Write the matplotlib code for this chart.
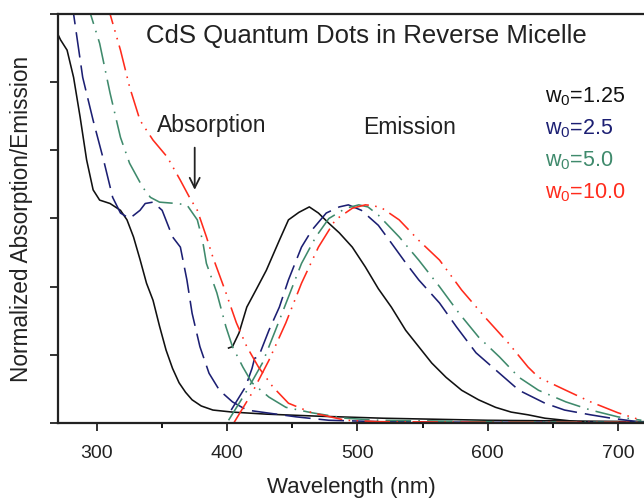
import matplotlib
matplotlib.use("Agg")
import matplotlib.pyplot as plt

plt.rcParams['font.family'] = ['Liberation Sans', 'DejaVu Sans']
plt.rcParams['mathtext.fontset'] = 'custom'
plt.rcParams['mathtext.rm'] = 'Liberation Sans'
plt.rcParams['mathtext.it'] = 'Liberation Sans:italic'

# absorption spectra (wavelength nm, normalized)
abs_k_x = [270, 272, 277, 282, 287, 292, 297, 302, 310, 318, 323, 328, 333, 338, 343, 348, 353, 358, 363, 368, 373, 380, 389, 404, 430, 470, 520, 600, 720]
abs_k_y = [5.70, 5.62, 5.47, 5.07, 4.49, 3.86, 3.42, 3.27, 3.22, 3.12, 2.98, 2.73, 2.40, 2.05, 1.80, 1.42, 1.07, 0.80, 0.59, 0.45, 0.34, 0.25, 0.19, 0.16, 0.13, 0.10, 0.07, 0.04, 0.02]

abs_b_x = [279, 282, 289, 297, 305, 312, 318, 325, 333, 337, 343, 350, 358, 364, 369, 373, 379, 386, 394, 404, 415, 430, 453, 478, 516, 600, 720]
abs_b_y = [6.40, 6.00, 5.07, 4.44, 3.86, 3.31, 3.08, 3.00, 3.12, 3.22, 3.24, 3.12, 2.73, 2.58, 2.10, 1.61, 1.12, 0.73, 0.48, 0.31, 0.19, 0.15, 0.09, 0.04, 0.02, 0.01, 0.01]

abs_g_x = [291, 295, 302, 310, 318, 325, 335, 341, 348, 361, 369, 377, 381, 384, 392, 399, 404, 412, 419, 432, 445, 465, 491, 516, 600, 720]
abs_g_y = [6.50, 6.00, 5.57, 4.84, 4.19, 3.81, 3.46, 3.31, 3.24, 3.22, 3.20, 2.98, 2.68, 2.34, 1.91, 1.41, 1.12, 0.82, 0.59, 0.38, 0.23, 0.15, 0.07, 0.04, 0.02, 0.01]

abs_r_x = [307, 310, 318, 325, 333, 343, 354, 364, 371, 377, 384, 389, 399, 407, 415, 424, 435, 447, 465, 491, 516, 600, 720]
abs_r_y = [6.50, 6.00, 5.47, 4.93, 4.44, 4.15, 3.90, 3.56, 3.31, 3.12, 2.73, 2.43, 1.91, 1.47, 1.12, 0.82, 0.53, 0.29, 0.15, 0.04, 0.02, 0.01, 0.01]

# emission spectra
em_k_x = [401, 404, 409, 415, 422, 430, 440, 447, 455, 463, 470, 478, 486, 496, 506, 516, 526, 537, 547, 557, 568, 580, 593, 606, 618, 631, 644, 669, 720]
em_k_y = [1.10, 1.12, 1.32, 1.70, 1.95, 2.24, 2.68, 2.98, 3.09, 3.17, 3.08, 2.93, 2.79, 2.58, 2.29, 1.97, 1.70, 1.36, 1.12, 0.88, 0.67, 0.48, 0.34, 0.23, 0.16, 0.12, 0.07, 0.02, 0.00]

em_b_x = [403, 414, 419, 421, 424, 432, 440, 447, 457, 465, 476, 486, 493, 503, 516, 526, 537, 547, 563, 576, 591, 606, 624, 644, 659, 679, 695, 715]
em_b_y = [0.19, 0.53, 0.80, 0.95, 0.97, 1.36, 1.70, 2.10, 2.58, 2.83, 3.08, 3.17, 3.20, 3.12, 2.90, 2.64, 2.35, 2.10, 1.76, 1.41, 1.03, 0.78, 0.48, 0.29, 0.19, 0.12, 0.07, 0.02]

em_g_x = [401, 414, 427, 437, 447, 457, 468, 478, 491, 501, 508, 516, 532, 547, 563, 578, 593, 609, 624, 639, 660, 679, 700, 718]
em_g_y = [0.04, 0.44, 0.88, 1.36, 1.85, 2.34, 2.73, 3.00, 3.15, 3.20, 3.17, 3.05, 2.73, 2.39, 2.00, 1.61, 1.26, 0.97, 0.67, 0.48, 0.31, 0.19, 0.09, 0.04]

em_r_x = [405, 419, 432, 445, 457, 470, 483, 496, 506, 512, 519, 532, 547, 563, 580, 598, 616, 631, 639, 660, 679, 700, 718]
em_r_y = [0.00, 0.44, 0.92, 1.47, 2.05, 2.58, 2.98, 3.15, 3.20, 3.19, 3.15, 2.98, 2.68, 2.39, 1.95, 1.55, 1.17, 0.82, 0.67, 0.48, 0.31, 0.15, 0.04]

labels = ['w$_0$=1.25', 'w$_0$=2.5', 'w$_0$=5.0', 'w$_0$=10.0']
colors = ['#111111', '#1c1f73', '#3f8a6c', '#ff2b1c']
dashes = [None, (16, 5), (16, 4.5, 1, 4.5), (16, 4, 1, 4, 1, 4)]

fig = plt.figure(figsize=(6.44, 4.98), dpi=100)
ax = fig.add_axes([0.090, 0.1506, 0.910, 0.8213])

abs_data = [(abs_k_x, abs_k_y), (abs_b_x, abs_b_y), (abs_g_x, abs_g_y), (abs_r_x, abs_r_y)]
em_data = [(em_k_x, em_k_y), (em_b_x, em_b_y), (em_g_x, em_g_y), (em_r_x, em_r_y)]

for i in range(4):
    for xs, ys in (abs_data[i], em_data[i]):
        line, = ax.plot(xs, ys, color=colors[i], lw=1.15)
        if dashes[i] is not None:
            line.set_dashes(dashes[i])

ax.set_xlim(270, 720)
ax.set_ylim(0, 6)
ax.set_xticks([300, 400, 500, 600, 700])
ax.set_xticks([350, 450, 550, 650], minor=True)
ax.set_yticks([0, 1, 2, 3, 4, 5, 6])
ax.set_yticklabels([])
ax.tick_params(axis='both', which='major', direction='out', length=5.5, width=1.3, labelsize=14, colors='#222222')
ax.tick_params(axis='x', which='minor', direction='out', length=3.5, width=1.3)
ax.tick_params(axis='x', pad=10)
for s in ['left', 'bottom', 'top']:
    ax.spines[s].set_linewidth(1.6)
    ax.spines[s].set_color('#222222')
ax.spines['right'].set_visible(False)

ax.set_xlabel('Wavelength (nm)', fontsize=16, color='#222222', labelpad=11)
ax.set_ylabel('Normalized Absorption/Emission', fontsize=16.3, color='#222222', labelpad=9)

ax.text(0.527, 0.946, 'CdS Quantum Dots in Reverse Micelle', transform=ax.transAxes,
        ha='center', va='center', fontsize=18.5, color='#222222')
ax.text(388, 4.37, 'Absorption', ha='center', va='center', fontsize=16.5, color='#222222')
ax.text(540, 4.33, 'Emission', ha='center', va='center', fontsize=16.5, color='#222222')
ax.annotate('', xy=(375, 3.38), xytext=(375, 4.08),
            arrowprops=dict(arrowstyle='->', lw=1.3, color='#222222', mutation_scale=18))

for i, lab in enumerate(labels):
    ax.text(0.831, 0.797 - i * 0.078, lab, transform=ax.transAxes, ha='left', va='center',
            fontsize=15.5, color=colors[i])

fig.savefig('out.png', dpi=100)
